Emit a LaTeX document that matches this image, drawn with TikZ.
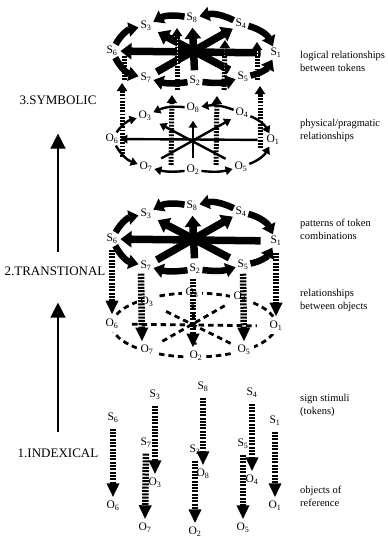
\documentclass[tikz,border=0pt]{standalone}
\usepackage{fontspec}
\setmainfont{Liberation Serif}
\usetikzlibrary{arrows.meta,calc}
\newcommand{\sy}[2]{#1\textsubscript{#2}}
\begin{document}
\begin{tikzpicture}[x=1pt,y=-1pt,
  lab/.style={font=\fontsize{11.5}{11.5}\selectfont, inner sep=0.8pt},
  olab/.style={lab, fill=white, inner sep=3.5pt},
  side/.style={font=\fontsize{10.5}{13}\selectfont, align=left, anchor=west, inner sep=0pt},
  level/.style={font=\fontsize{13}{13}\selectfont, inner sep=2pt},
  levelarrow/.style={line width=1.5pt, -{Triangle[width=15pt,length=15pt]}},
  ringarr/.style={line width=6.5pt, -{Triangle[width=14pt,length=10pt]}, shorten <=1pt, shorten >=1pt},
  stararr/.style={line width=7.5pt, -{Triangle[width=16pt,length=11pt]}},
  thinarr/.style={line width=2.4pt, -{Triangle[width=8.5pt,length=7pt]}},
  ringthin/.style={thinarr, shorten <=1pt, shorten >=1pt},
  bar/.style={line width=6.5pt, dash pattern=on 2pt off 1.3pt, -{Triangle[width=12pt,length=14pt]}},
  topbar/.style={line width=5pt, dash pattern=on 1.8pt off 1.4pt, -{Triangle[width=10pt,length=8pt]}, preaction={draw=white, solid, arrows=-, shorten >=8pt}},
  odash/.style={line width=2.8pt, dash pattern=on 5.5pt off 4pt},
]
\useasboundingbox (0,0) rectangle (388,538);

% ---------- level labels ----------
\node[level] (sym) at (58,100) {3.SYMBOLIC};
\node[level] (tra) at (55,271) {2.TRANSTIONAL};
\node[level] (ind) at (58,453) {1.INDEXICAL};
\draw[levelarrow, shorten <=12pt, shorten >=27pt] (sym.south |- tra.north) -- (sym.south);
\draw[levelarrow, shorten <=14pt, shorten >=25pt] (ind.north) -- (ind.north |- tra.south);

% ---------- side labels ----------
\node[side] (t1) at (300,61) {logical relationships\\between tokens};
\node[side] (t2) at (300,130) {physical/pragmatic\\relationships};
\node[side] (t3) at (300,229) {patterns of token\\combinations};
\node[side] (t4) at (300,300) {relationships\\between objects};
\node[side] (t5) at (300,405) {sign stimuli\\(tokens)};
\node[side] (t6) at (300,496) {objects of\\reference};

% ---------- S rings (symbolic a, transitional b) ----------
\foreach \n/\d in {a/0,b/188}{
  \node[lab] (s6\n) at (112,51+\d) {\sy{S}{6}};
  \node[lab] (s3\n) at (146,26+\d) {\sy{S}{3}};
  \node[lab] (s8\n) at (192,18+\d) {\sy{S}{8}};
  \node[lab] (s4\n) at (241,24+\d) {\sy{S}{4}};
  \node[lab] (s1\n) at (276,53+\d) {\sy{S}{1}};
  \node[lab] (s5\n) at (243,77+\d) {\sy{S}{5}};
  \node[lab] (s2\n) at (195,81+\d) {\sy{S}{2}};
  \node[lab] (s7\n) at (146,78+\d) {\sy{S}{7}};
  \draw[stararr, shorten <=9pt, shorten >=2pt] (s1\n) -- (s6\n);
  \draw[stararr, shorten <=5pt, shorten >=2pt] (s7\n) -- (s4\n);
  \draw[stararr, shorten <=8pt, shorten >=6pt] (s5\n) -- (s3\n);
  \draw[stararr, shorten <=5pt, shorten >=4pt] (s2\n) -- (s8\n);
}

% ---------- symbolic: vertical hatched bars ----------
\coordinate (l1b) at (122,157); \coordinate (l1t) at (122,83);
\coordinate (l2b) at (171,165); \coordinate (l2t) at (172,95);
\coordinate (l3b) at (216,165); \coordinate (l3t) at (217,96);
\coordinate (l4b) at (260,148); \coordinate (l4t) at (260,86);
\coordinate (u1b) at (124,80);  \coordinate (u1t) at (124,56);
\coordinate (u2b) at (177,90);  \coordinate (u2t) at (177,28);
\coordinate (u3b) at (224,90);  \coordinate (u3t) at (225,40);
\coordinate (u4b) at (257,80);  \coordinate (u4t) at (257,42);
\draw[topbar] (l1b) -- (l1t);
\draw[topbar] (l2b) -- (l2t);
\draw[topbar] (l3b) -- (l3t);
\draw[topbar] (l4b) -- (l4t);
\draw[topbar, arrows=-] (u1b) -- (u1t);
\draw[topbar] (u2b) -- (u2t);
\draw[topbar] (u3b) -- (u3t);
\draw[topbar] (u4b) -- (u4t);

% ---------- S ring arrows ----------
\foreach \n in {a,b}{
  \draw[ringarr] (s8\n) to[bend right=20] (s3\n);
  \draw[ringarr] (s4\n) to[bend right=20] (s8\n);
  \draw[ringarr] (s4\n) to[bend left=25] (s1\n);
  \draw[ringarr] (s6\n) to[bend left=25] (s3\n);
  \draw[ringarr] (s6\n) to[bend right=25] (s7\n);
  \draw[ringarr] (s5\n) to[bend right=25] (s1\n);
  \draw[ringarr] (s2\n) to[bend left=12] (s7\n);
  \draw[ringarr] (s2\n) to[bend right=12] (s5\n);
}

% ---------- symbolic: O ring ----------
\node[lab] (o6a) at (112,139) {\sy{O}{6}};
\node[lab] (o3a) at (145,116) {\sy{O}{3}};
\node[lab] (o8a) at (193,108) {\sy{O}{8}};
\node[lab] (o4a) at (242,113) {\sy{O}{4}};
\node[lab] (o1a) at (273,140) {\sy{O}{1}};
\node[lab] (o5a) at (241,167) {\sy{O}{5}};
\node[lab] (o2a) at (193,170) {\sy{O}{2}};
\node[lab] (o7a) at (146,167) {\sy{O}{7}};
\draw[thinarr, shorten <=8pt, shorten >=1pt] (o1a) -- (o6a);
\draw[thinarr, shorten <=6pt, shorten >=7pt] (o2a) -- (o8a);
\draw[thinarr, shorten <=9pt, shorten >=4pt] (o7a) -- (o4a);
\draw[thinarr, shorten <=9pt, shorten >=8pt] (o5a) -- (o3a);
\draw[ringthin] (o8a) to[bend right=15] (o3a);
\draw[ringthin] (o4a) to[bend right=15] (o8a);
\draw[ringthin] (o4a) to[bend left=20] (o1a);
\draw[ringthin] (o6a) to[bend left=20] (o3a);
\draw[ringthin] (o6a) to[bend right=20] (o7a);
\draw[ringthin] (o5a) to[bend right=20] (o1a);
\draw[ringthin] (o2a) to[bend left=10] (o7a);
\draw[ringthin] (o2a) to[bend right=10] (o5a);

% ---------- transitional: O ring (dashed) ----------
\draw[odash] (194,325) ellipse [x radius=82, y radius=32];
\node[olab] (o6b) at (112,324) {\sy{O}{6}};
\node[olab] (o3b) at (147,302) {\sy{O}{3}};
\node[olab] (o8b) at (192,293) {\sy{O}{8}};
\node[olab] (o4b) at (240,297) {\sy{O}{4}};
\node[olab] (o1b) at (276,326) {\sy{O}{1}};
\node[olab] (o5b) at (244,350) {\sy{O}{5}};
\node[olab] (o2b) at (196,356) {\sy{O}{2}};
\node[olab] (o7b) at (147,350) {\sy{O}{7}};
\draw[odash, shorten <=10pt, shorten >=9pt] (o6b) -- (o1b);
\draw[odash, shorten <=10pt, shorten >=1pt] (o3b) -- (o5b);
\draw[odash, shorten <=6pt, shorten >=6pt] (o7b) -- (o4b);
\draw[odash, shorten <=3pt, shorten >=3pt] (o8b) -- (o2b);
\draw[bar, shorten <=5pt, shorten >=1pt] (s6b.south) -- (o6b.north);
\draw[bar, shorten <=2pt, shorten >=0pt] ([xshift=-5pt]s7b.south) -- ([xshift=-5pt]o7b.north);
\draw[bar, shorten <=4pt, shorten >=0pt] ([xshift=-2pt]s2b.south) -- ([xshift=-3pt]o2b.north);
\draw[bar, shorten <=3pt, shorten >=0pt] (s5b.south) -- (o5b.north);
\draw[bar, shorten <=6pt, shorten >=1pt] (s1b.south) -- (o1b.north);

% ---------- indexical ----------
\node[lab] (s6c) at (113,418) {\sy{S}{6}};
\node[lab] (s3c) at (155,395) {\sy{S}{3}};
\node[lab] (s8c) at (203,387) {\sy{S}{8}};
\node[lab] (s4c) at (252,393) {\sy{S}{4}};
\node[lab] (s1c) at (275,421) {\sy{S}{1}};
\node[lab] (s7c) at (146,443) {\sy{S}{7}};
\node[lab] (s2c) at (195,450) {\sy{S}{2}};
\node[lab] (s5c) at (243,444) {\sy{S}{5}};
\node[lab] (o6c) at (113,506) {\sy{O}{6}};
\node[lab] (o3c) at (155,483) {\sy{O}{3}};
\node[lab] (o8c) at (203,474) {\sy{O}{8}};
\node[lab] (o4c) at (252,480) {\sy{O}{4}};
\node[lab] (o1c) at (275,506) {\sy{O}{1}};
\node[lab] (o7c) at (145,528) {\sy{O}{7}};
\node[lab] (o2c) at (195,532) {\sy{O}{2}};
\node[lab] (o5c) at (243,528) {\sy{O}{5}};
\foreach \k in {6,3,8,4,1,7,2,5}{
  \draw[bar, shorten <=5pt, shorten >=3pt] (s\k c.south) -- (o\k c.north);
}
\end{tikzpicture}
\end{document}
